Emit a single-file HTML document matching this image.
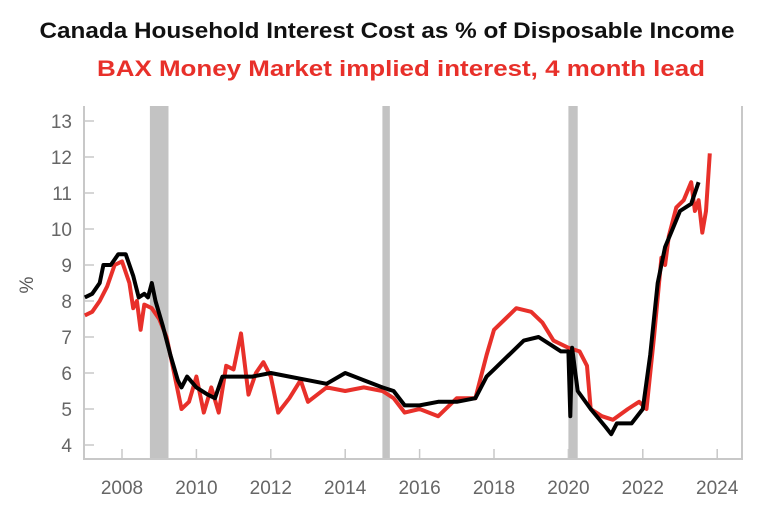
<!DOCTYPE html>
<html><head><meta charset="utf-8"><style>
body{margin:0;background:#fff;width:769px;height:516px;overflow:hidden;font-family:"Liberation Sans",sans-serif}
</style></head><body>
<svg width="769" height="516">
<text x="387" y="38" text-anchor="middle" font-size="22" font-weight="900" fill="#111" textLength="695" lengthAdjust="spacingAndGlyphs">Canada Household Interest Cost as % of Disposable Income</text>
<text x="401" y="76" text-anchor="middle" font-size="22" font-weight="bold" fill="#e8302a" textLength="608" lengthAdjust="spacingAndGlyphs">BAX Money Market implied interest, 4 month lead</text>
<g id="plot"></g>
<text transform="translate(33,285) rotate(-90)" text-anchor="middle" font-size="19" fill="#555">%</text>
</svg>
<script>
const recessions=[[2008.75,2009.25],[2015.0,2015.2],[2020.0,2020.25]];
const yTicks=[4,5,6,7,8,9,10,11,12,13];
const xTicks=[2008,2010,2012,2014,2016,2018,2020,2022,2024];
const blackX=[2007.0,2007.2,2007.4,2007.5,2007.7,2007.9,2008.1,2008.3,2008.45,2008.6,2008.7,2008.8,2008.9,2009.1,2009.3,2009.5,2009.6,2009.75,2010.0,2010.3,2010.5,2010.7,2011,2011.5,2012,2012.5,2013,2013.5,2014,2014.5,2015,2015.3,2015.6,2016,2016.5,2017,2017.5,2017.8,2018,2018.4,2018.8,2019.2,2019.5,2019.8,2020.0,2020.05,2020.1,2020.25,2020.6,2021.0,2021.15,2021.3,2021.7,2022.0,2022.2,2022.4,2022.6,2022.8,2023.0,2023.3,2023.5];
const blackY=[8.1,8.2,8.5,9.0,9.0,9.3,9.3,8.7,8.1,8.2,8.1,8.5,8.0,7.3,6.5,5.8,5.6,5.9,5.6,5.4,5.3,5.9,5.9,5.9,6.0,5.9,5.8,5.7,6.0,5.8,5.6,5.5,5.1,5.1,5.2,5.2,5.3,5.9,6.1,6.5,6.9,7.0,6.8,6.6,6.6,4.8,6.7,5.5,5.0,4.5,4.3,4.6,4.6,5.0,6.5,8.5,9.5,10.0,10.5,10.7,11.3];
const redX=[2007.0,2007.2,2007.4,2007.6,2007.8,2008.0,2008.2,2008.3,2008.4,2008.5,2008.6,2008.8,2009.0,2009.2,2009.4,2009.6,2009.8,2010.0,2010.2,2010.4,2010.6,2010.8,2011.0,2011.2,2011.4,2011.6,2011.8,2012,2012.2,2012.5,2012.8,2013,2013.5,2014,2014.5,2015,2015.3,2015.6,2016,2016.5,2017,2017.5,2017.8,2018,2018.3,2018.6,2019.0,2019.3,2019.6,2020,2020.3,2020.5,2020.6,2020.9,2021.2,2021.6,2021.9,2022.1,2022.3,2022.5,2022.6,2022.7,2022.9,2023.1,2023.3,2023.4,2023.5,2023.6,2023.7,2023.8];
const redY=[7.6,7.7,8.0,8.4,9.0,9.1,8.5,7.8,8.0,7.2,7.9,7.8,7.5,7.0,6.0,5.0,5.2,5.9,4.9,5.6,4.9,6.2,6.1,7.1,5.4,6.0,6.3,5.9,4.9,5.3,5.8,5.2,5.6,5.5,5.6,5.5,5.3,4.9,5.0,4.8,5.3,5.3,6.5,7.2,7.5,7.8,7.7,7.4,6.9,6.7,6.6,6.2,5.0,4.8,4.7,5.0,5.2,5.0,7.0,9.2,9.0,9.8,10.6,10.8,11.3,10.5,10.8,9.9,10.5,12.1];
const NS="http://www.w3.org/2000/svg";
const L=84,R=742,T=106,B=459;
const x=v=>122+(v-2008)*37.2;
const y=v=>445-(v-4)*36;
const g=document.getElementById('plot');
function mk(t,a){const e=document.createElementNS(NS,t);for(const k in a)e.setAttribute(k,a[k]);g.appendChild(e);return e;}
recessions.forEach(r=>{const e=mk('rect',{x:x(r[0]),y:T,width:x(r[1])-x(r[0]),height:B-T,fill:'#c3c3c3'});

});
let e=mk('path',{d:`M${L},${T}V${B}H${R}V${T}`,stroke:'#c8c8c8','stroke-width':2,fill:'none'});


yTicks.forEach(t=>{mk('line',{x1:L,x2:L+10,y1:y(t),y2:y(t),stroke:'#c8c8c8','stroke-width':1.5});
const tx=mk('text',{x:72,y:y(t)+7,'text-anchor':'end','font-size':19,fill:'#666'});tx.textContent=t;

});
xTicks.forEach(t=>{mk('line',{x1:x(t),x2:x(t),y1:B,y2:B-10,stroke:'#c8c8c8','stroke-width':1.5});
const tx=mk('text',{x:x(t),y:494,'text-anchor':'middle','font-size':19,fill:'#666'});tx.textContent=t;

});
function line(xs,ys,c,name){const d=xs.map((v,i)=>(i?'L':'M')+x(v).toFixed(1)+','+y(ys[i]).toFixed(1)).join('');
const p=mk('path',{d:d,stroke:c,'stroke-width':4,fill:'none','stroke-linejoin':'round'});

}
line(redX,redY,'#e8302a','bax-implied-interest-line');
line(blackX,blackY,'#000','household-interest-cost-line');
</script>
</body></html>
